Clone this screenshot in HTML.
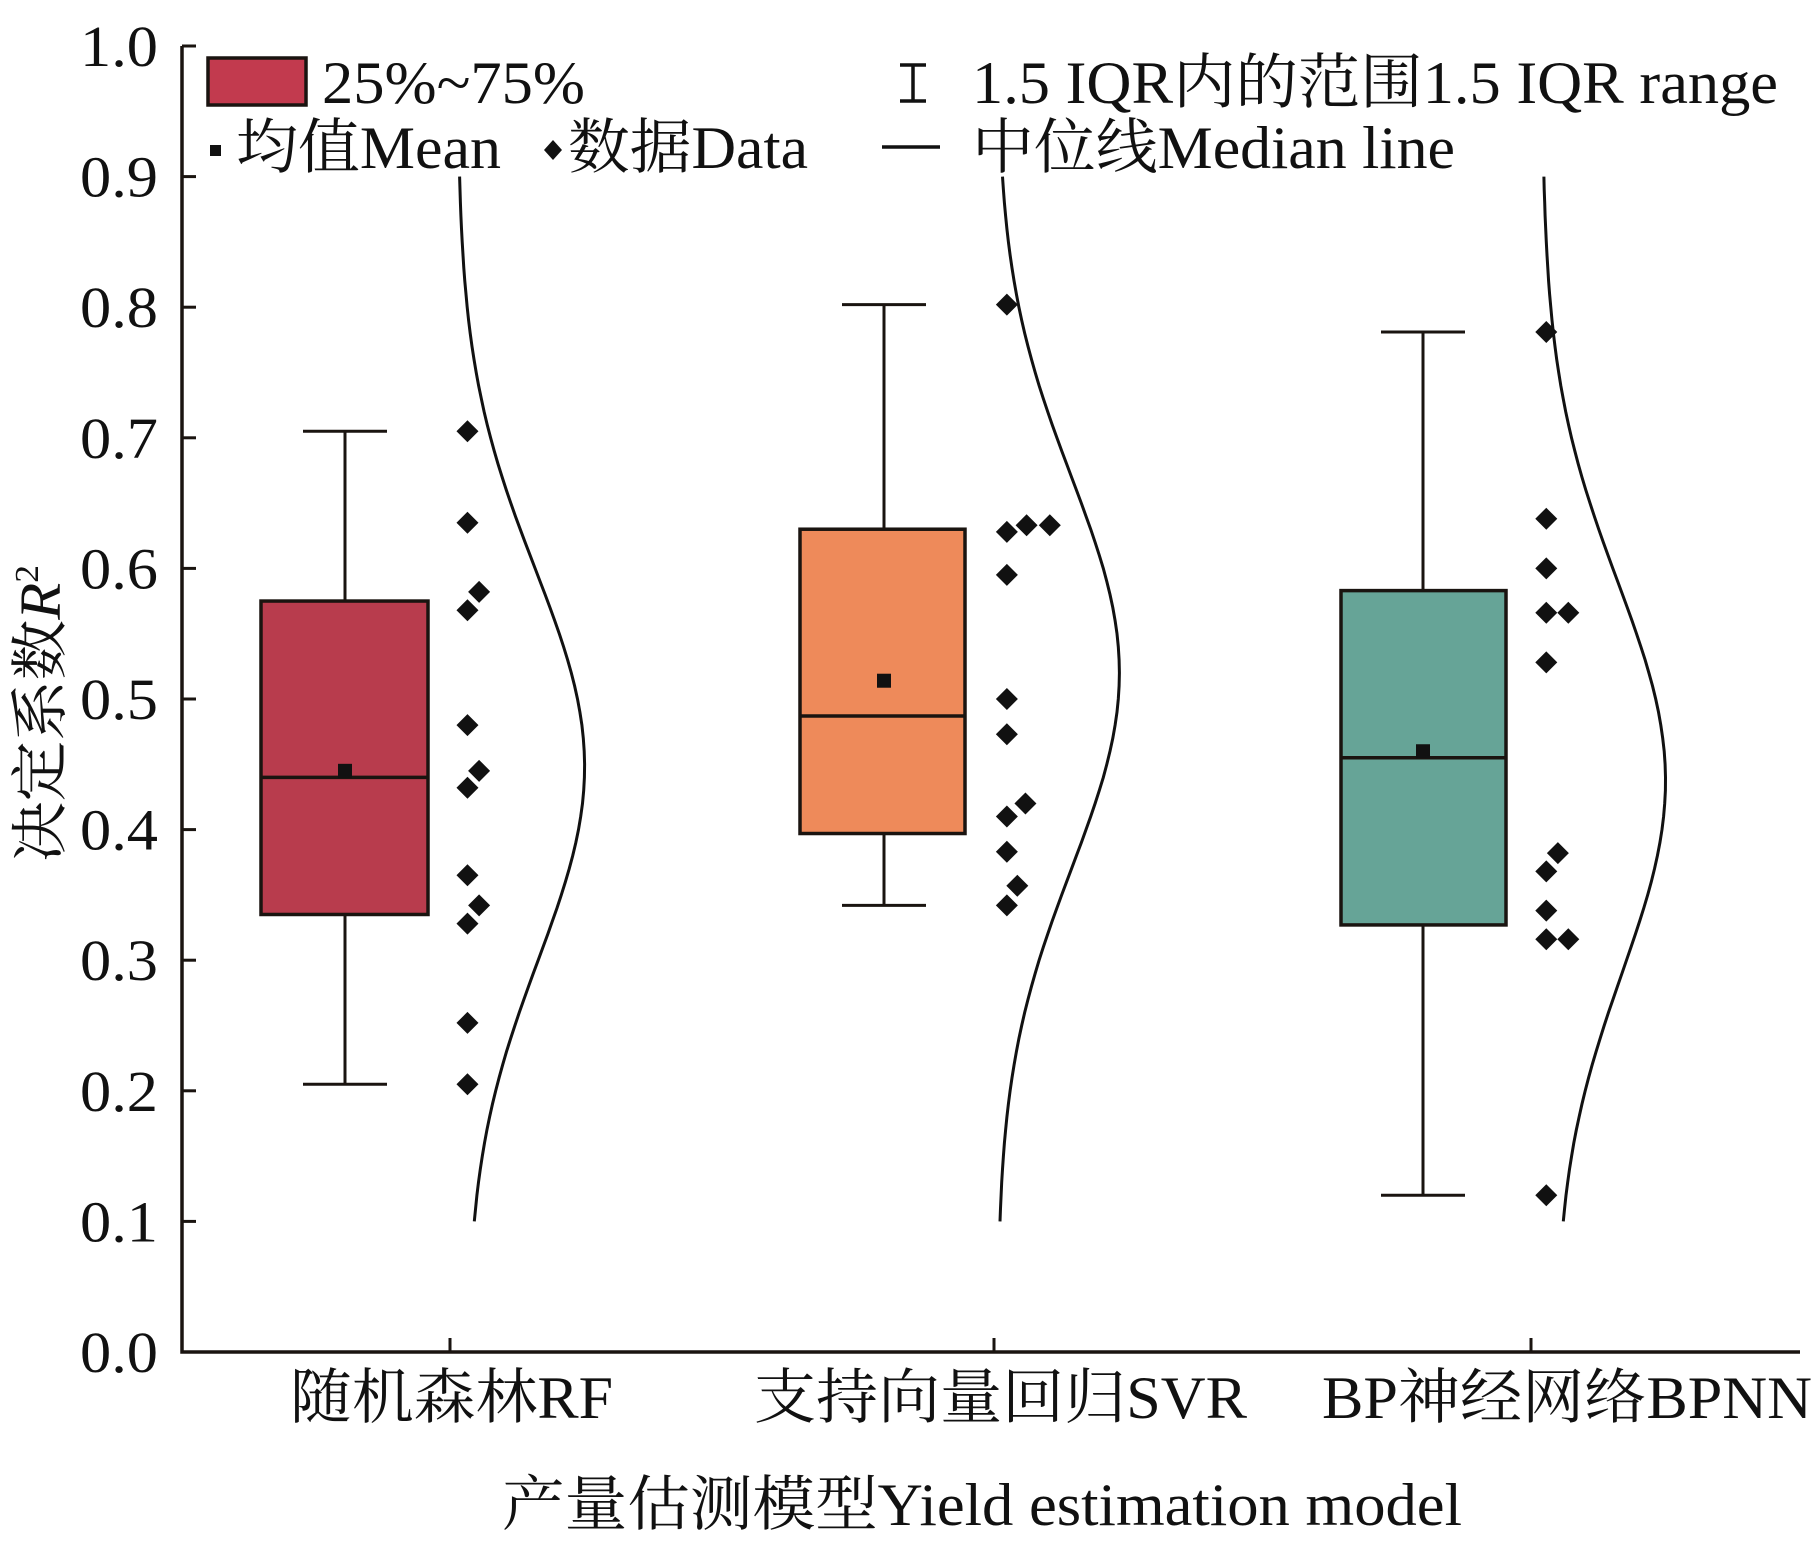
<!DOCTYPE html>
<html><head><meta charset="utf-8"><style>
html,body{margin:0;padding:0;background:#fff;}
svg{display:block;}
text{font-family:"Liberation Serif","Noto Serif CJK SC",serif;fill:#111;}
</style></head><body>
<svg id="s" width="1819" height="1560" xmlns="http://www.w3.org/2000/svg"></svg>
<script>
const s=document.getElementById('s');
const Y=v=>1352-v*1306;
let h='';
h+='<path d="M182,46 V1352 H1800" fill="none" stroke="#1a1410" stroke-width="3.5"/>';
for(let i=0;i<=10;i++){const y=Y(i/10);
 h+=`<line x1="182" x2="196" y1="${y}" y2="${y}" stroke="#1a1410" stroke-width="3"/>`;
 h+=`<text x="158" y="${y+20}" font-size="58" text-anchor="end" textLength="78" lengthAdjust="spacingAndGlyphs">${(i/10).toFixed(1)}</text>`;}
[450,994,1531].forEach(x=>h+=`<line x1="${x}" x2="${x}" y1="1352" y2="1338" stroke="#1a1410" stroke-width="3"/>`);
const B=[
 {c:345,x0:261,x1:428,q1:.335,q3:.575,md:.44,mn:.445,lo:.205,hi:.705,col:'#b83c4d'},
 {c:884,x0:800,x1:965,q1:.397,q3:.63,md:.487,mn:.514,lo:.342,hi:.802,col:'#ee8a5a'},
 {c:1423,x0:1341,x1:1506,q1:.327,q3:.583,md:.455,mn:.46,lo:.12,hi:.781,col:'#66a497'}];
B.forEach(b=>{
 h+=`<line x1="${b.c}" x2="${b.c}" y1="${Y(b.hi)}" y2="${Y(b.lo)}" stroke="#1a1410" stroke-width="3"/>`;
 h+=`<line x1="${b.c-42}" x2="${b.c+42}" y1="${Y(b.hi)}" y2="${Y(b.hi)}" stroke="#1a1410" stroke-width="3"/>`;
 h+=`<line x1="${b.c-42}" x2="${b.c+42}" y1="${Y(b.lo)}" y2="${Y(b.lo)}" stroke="#1a1410" stroke-width="3"/>`;
 h+=`<rect x="${b.x0}" y="${Y(b.q3)}" width="${b.x1-b.x0}" height="${Y(b.q1)-Y(b.q3)}" fill="${b.col}" stroke="#1a1410" stroke-width="3.5"/>`;
 h+=`<line x1="${b.x0}" x2="${b.x1}" y1="${Y(b.md)}" y2="${Y(b.md)}" stroke="#1a1410" stroke-width="3.5"/>`;
 h+=`<rect x="${b.c-7}" y="${Y(b.mn)-7}" width="14" height="14" fill="#111"/>`;
});
const D=t=>t.map(([x,v])=>[x*1.16,v]);
const pts=[
 [403,.705],[403,.635],[413,.582],[403,.568],[403,.48],[413,.445],[403,.432],[403,.365],[413,.342],[403,.328],[403,.252],[403,.205],
 [868,.802],[868,.628],[885,.633],[905,.633],[868,.595],[868,.5],[868,.473],[884,.42],[868,.41],[868,.383],[877,.357],[868,.342],
 [1333,.781],[1333,.638],[1333,.6],[1333,.566],[1352,.566],[1333,.528],[1343,.382],[1333,.368],[1333,.338],[1333,.316],[1352,.316],[1333,.12]];
D(pts).forEach(([x,v])=>{const y=Y(v);h+=`<path d="M${x},${y-11} L${x+11},${y} L${x},${y+11} L${x-11},${y}Z" fill="#111"/>`;});
const C=[[395,402,500,.45,.15],[860,860,965,.52,.15],[1330,1340,1430,.44,.15]];
C.forEach(([t,bt,pk,mu,sd])=>{let d='';
 for(let i=0;i<=80;i++){const v=.9-i*.01;const base=t+(bt-t)*(.9-v)/.8;
  const x=(base+(pk-t)*Math.exp(-((v-mu)**2)/(2*sd*sd)))*1.16;d+=(i?'L':'M')+x.toFixed(1)+','+Y(v).toFixed(1);}
 h+=`<path d="${d}" fill="none" stroke="#111" stroke-width="3"/>`;});
h+='<rect x="208" y="58" width="98" height="47" fill="#c23a4e" stroke="#1a1410" stroke-width="3.5"/>';
h+='<text x="322" y="103" font-size="60" textLength="263" lengthAdjust="spacingAndGlyphs">25%~75%</text>';
h+='<rect x="210" y="145" width="11" height="11" fill="#111"/>';
h+='<text x="236" y="168" font-size="60" textLength="265" lengthAdjust="spacingAndGlyphs">均值Mean</text>';
h+='<path d="M553,140 L562,150 L553,160 L544,150Z" fill="#111"/>';
h+='<text x="568" y="168" font-size="60" textLength="240" lengthAdjust="spacingAndGlyphs">数据Data</text>';
h+='<path d="M900,65 H926 M913,65 V101 M900,101 H926" stroke="#111" stroke-width="3.5" fill="none"/>';
h+='<text x="972" y="103" font-size="60" textLength="806" lengthAdjust="spacingAndGlyphs">1.5 IQR内的范围1.5 IQR range</text>';
h+='<line x1="882" x2="940" y1="147" y2="147" stroke="#111" stroke-width="3.5"/>';
h+='<text x="972" y="168" font-size="60" textLength="483" lengthAdjust="spacingAndGlyphs">中位线Median line</text>';
h+='<text x="290" y="1418" font-size="60" textLength="323" lengthAdjust="spacingAndGlyphs">随机森林RF</text>';
h+='<text x="754" y="1418" font-size="60" textLength="493" lengthAdjust="spacingAndGlyphs">支持向量回归SVR</text>';
h+='<text x="1322" y="1418" font-size="60" textLength="490" lengthAdjust="spacingAndGlyphs">BP神经网络BPNN</text>';
h+='<text x="502" y="1525" font-size="60" textLength="960" lengthAdjust="spacingAndGlyphs">产量估测模型Yield estimation model</text>';
h+='<text transform="translate(60,862) rotate(-90)" font-size="58" textLength="297" lengthAdjust="spacingAndGlyphs">决定系数<tspan font-style="italic">R</tspan><tspan font-size="34" dy="-22">2</tspan></text>';
s.innerHTML=h;
</script>
</body></html>
